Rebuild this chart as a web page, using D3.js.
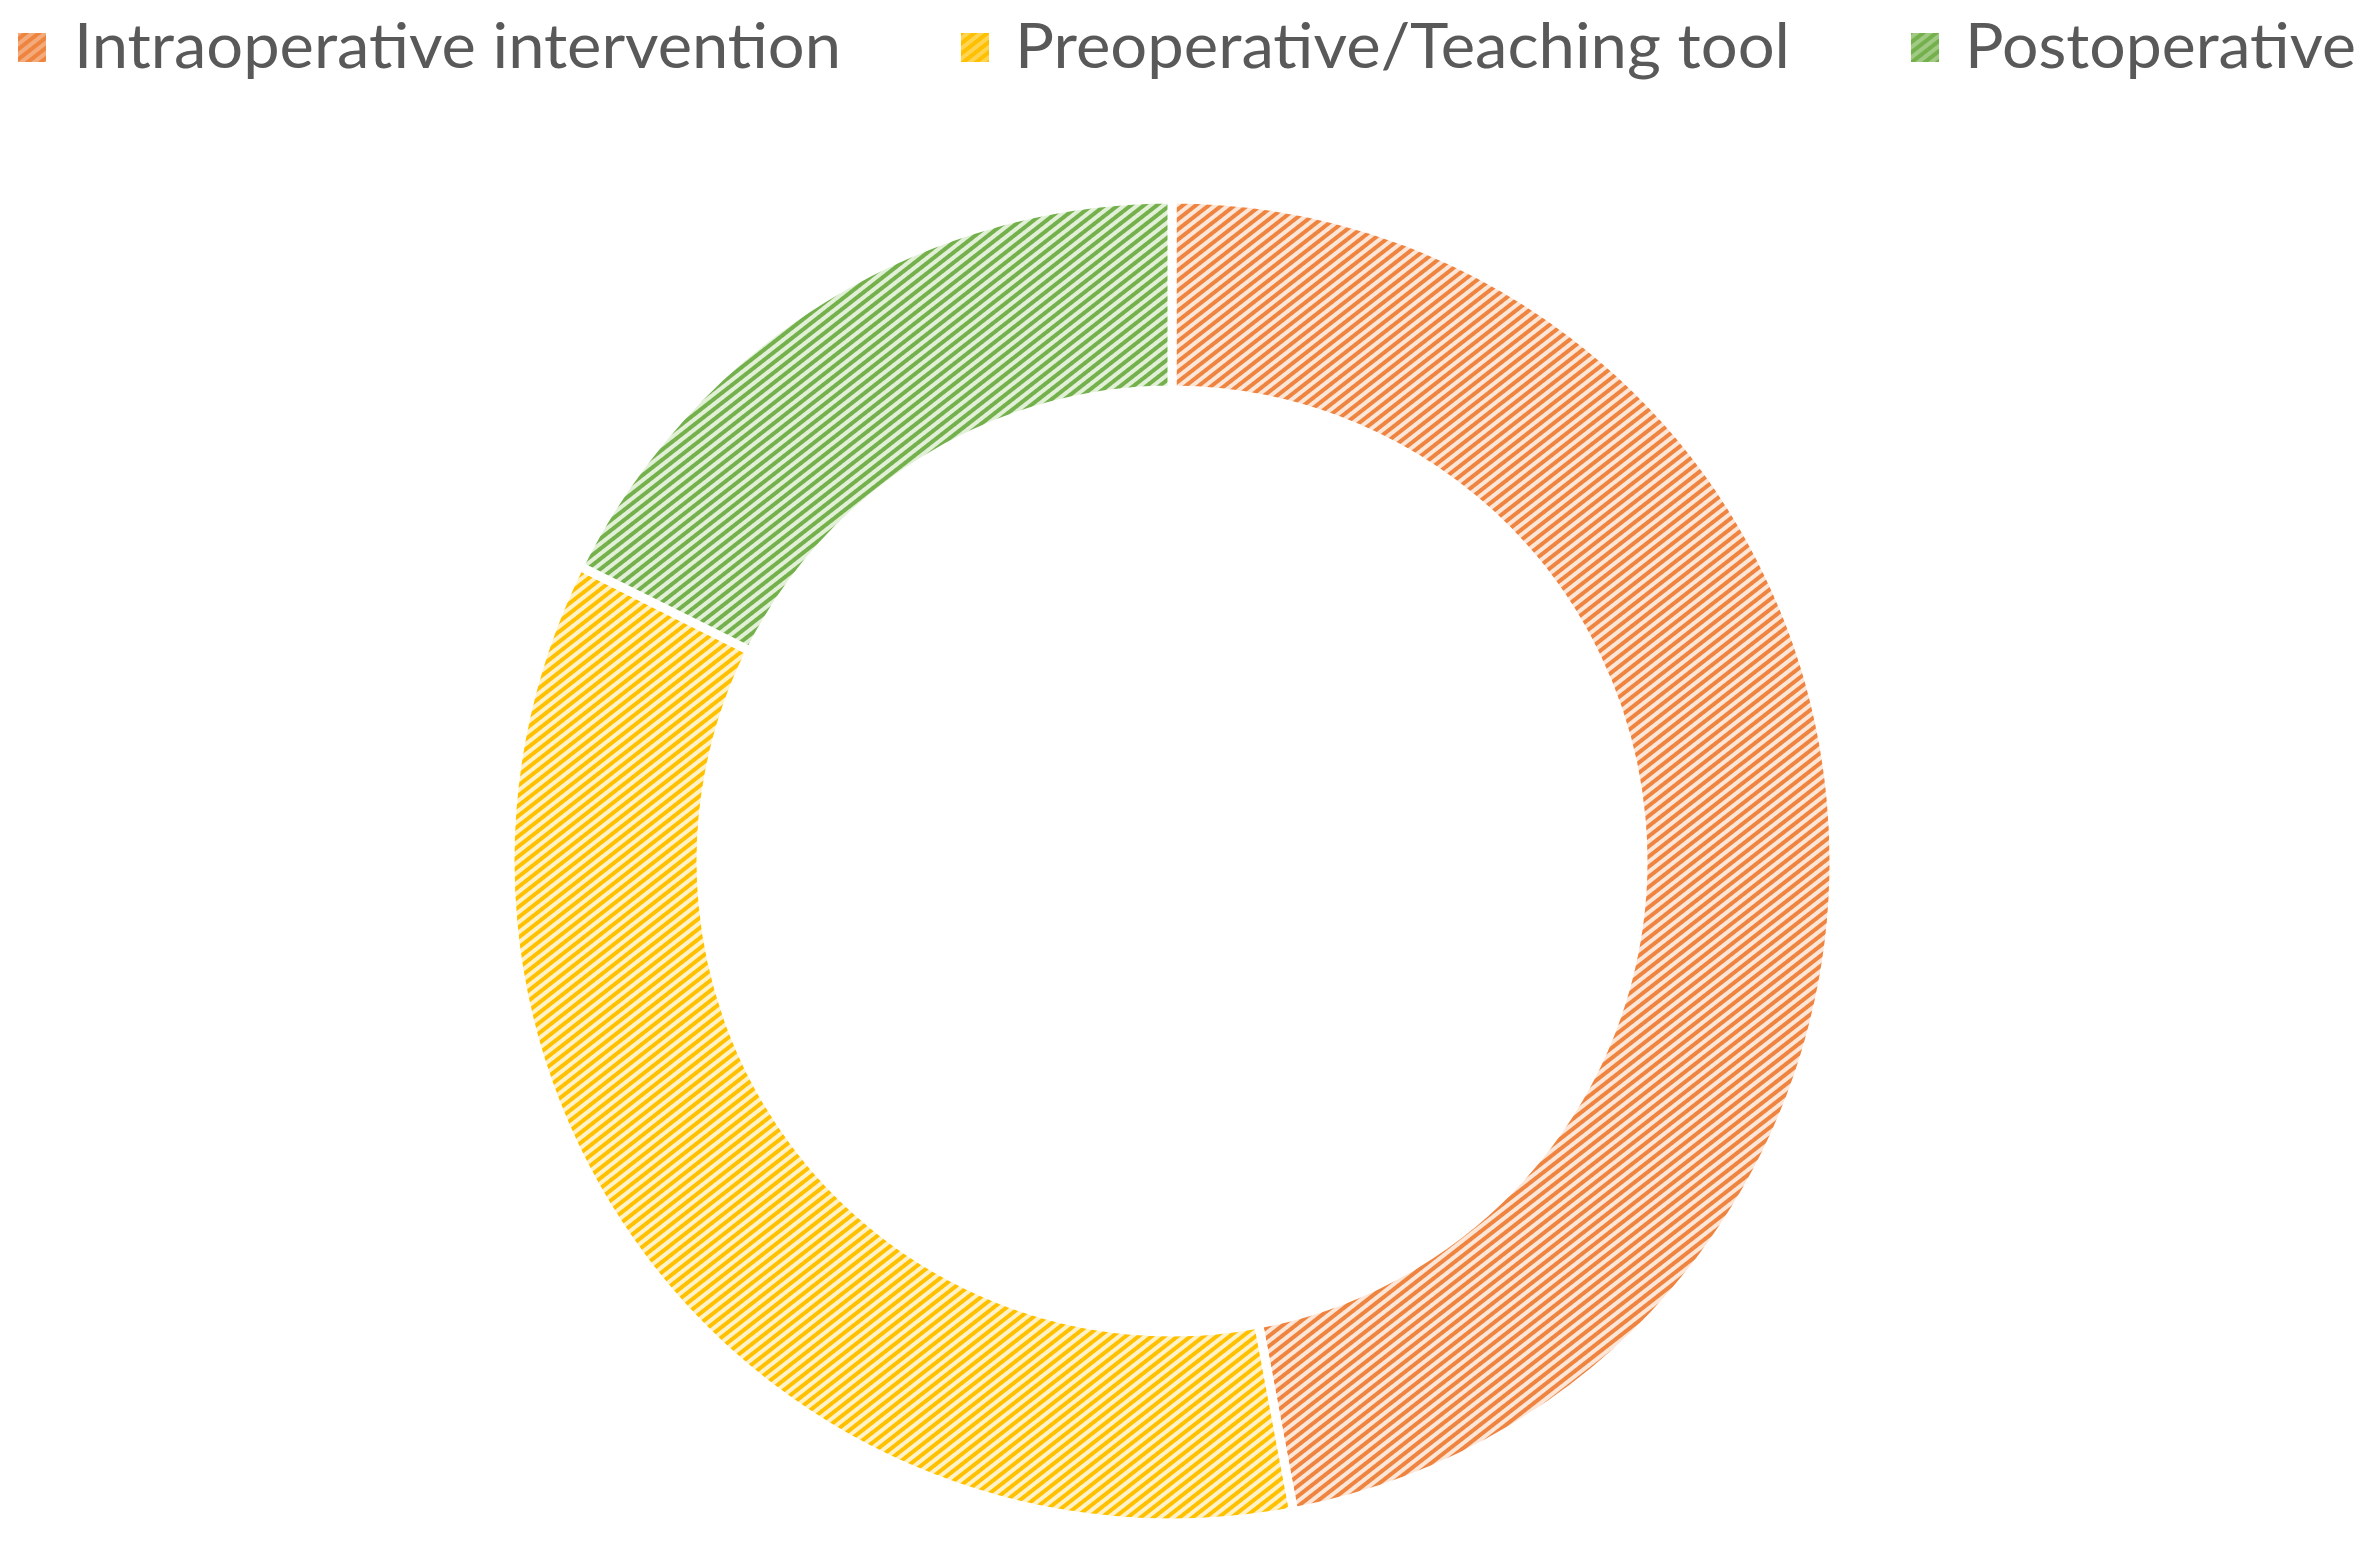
<!DOCTYPE html>
<html>
<head>
<meta charset="utf-8">
<script src="https://cdn.jsdelivr.net/npm/d3@7/dist/d3.min.js"></script>
<style>
  html, body { margin: 0; padding: 0; background: #ffffff; }
  svg { display: block; }
</style>
</head>
<body>
<svg id="chart" width="2375" height="1550"></svg>
<script>
// ---- data ----
const categories = ["Intraoperative intervention", "Preoperative/Teaching tool", "Postoperative"];
const values = [8, 6, 3];
const colors = ["#EF8440", "#FFC000", "#74B04C"];
const lightColors = ["#FCE6D8", "#FFF2C8", "#E2F0D8"];

// ---- layout ----
const cx = 1172, cy = 861;
const outerR = 662, innerR = 471;

const svg = d3.select("#chart");
const defs = svg.append("defs");

colors.forEach((c, i) => {
  const p = defs.append("pattern")
    .attr("id", "pat" + i)
    .attr("patternUnits", "userSpaceOnUse")
    .attr("width", 8).attr("height", 8)
    .attr("patternTransform", "rotate(-38)");
  p.append("rect").attr("width", 8).attr("height", 8).attr("fill", lightColors[i]);
  p.append("rect").attr("x", 0).attr("y", 0).attr("width", 8).attr("height", 4).attr("fill", c);
});

const pie = d3.pie().sort(null).value(d => d)(values);
const arc = d3.arc().innerRadius(innerR).outerRadius(outerR);

svg.append("g")
  .attr("transform", `translate(${cx},${cy})`)
  .selectAll("path")
  .data(pie)
  .join("path")
  .attr("d", arc)
  .attr("fill", (d, i) => `url(#pat${i})`)
  .attr("stroke", "#ffffff")
  .attr("stroke-width", 9)
  .attr("stroke-linejoin", "miter");

// ---- legend ----
const legendItems = [
  { marker: 18, textX: 74, textW: 767 },
  { marker: 961, textX: 1015, textW: 775 },
  { marker: 1911, textX: 1965, textW: 391 }
];
const lg = svg.append("g");
categories.forEach((cat, i) => {
  const li = legendItems[i];
  lg.append("rect")
    .attr("x", li.marker).attr("y", 33)
    .attr("width", 28).attr("height", 29)
    .attr("fill", `url(#pat${i})`);
  lg.append("rect")
    .attr("x", li.marker).attr("y", 33)
    .attr("width", 28).attr("height", 29)
    .attr("fill", colors[i]).attr("opacity", 0.6);
  lg.append("text")
    .attr("x", li.textX).attr("y", 68)
    .attr("font-family", "Lato, 'Open Sans', sans-serif")
    .attr("font-size", 62)
    .attr("fill", "#595959")
    .attr("textLength", li.textW)
    .attr("lengthAdjust", "spacingAndGlyphs")
    .text(cat);
});
</script>
</body>
</html>
